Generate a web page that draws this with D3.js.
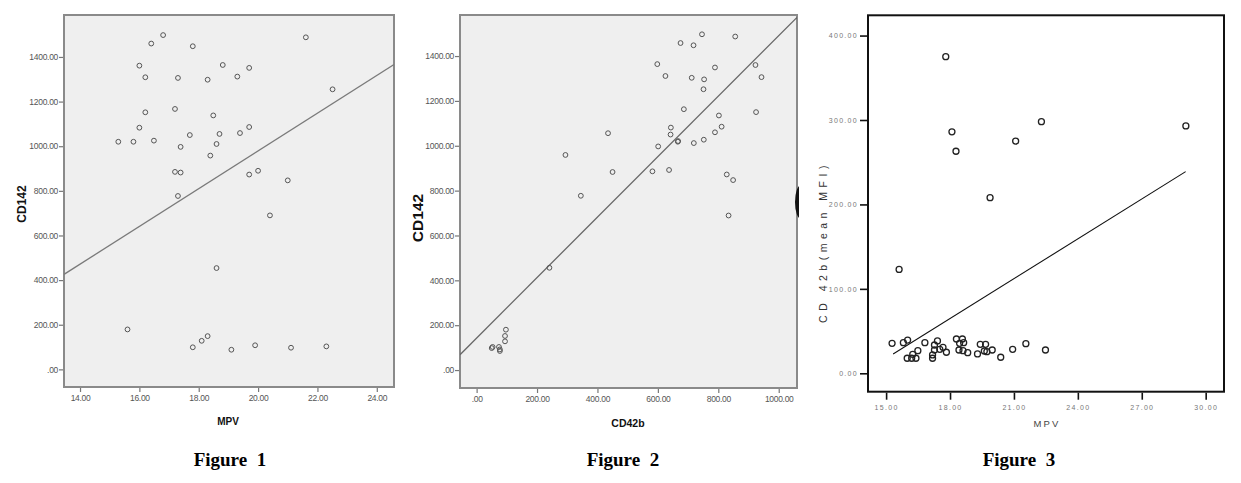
<!DOCTYPE html>
<html lang="en">
<head>
<meta charset="UTF-8">
<title>Figures 1-3</title>
<script src="https://cdnjs.cloudflare.com/ajax/libs/d3/7.8.5/d3.min.js"></script>
<style>
body { margin: 0; background: #fff; }
svg { display: block; }
.frame { fill: #efefef; stroke: #8a8a8a; stroke-width: 2px; }
.frame.bw { fill: #fff; stroke: #111; stroke-width: 2px; }
.tick text { font-family: "Liberation Sans Narrow", "Liberation Sans", sans-serif; fill: #555; }
.caption { font-family: "Liberation Serif", "Times New Roman", serif; font-weight: bold; font-size: 19px; }
</style>
</head>
<body>
<script>
// Figure 1: MPV vs CD142
var fig1Mpv   = [16.80, 16.40, 17.80, 21.61, 16.00, 18.81, 19.70, 16.20, 17.30, 18.30, 19.30, 22.51,
                 17.20, 16.20, 18.49, 16.00, 19.70, 15.29, 15.80, 16.49, 17.70, 18.70, 19.39, 17.39,
                 18.60, 18.39, 17.20, 17.39, 19.70, 20.00, 21.00, 17.30, 20.40, 18.60, 15.60, 17.80,
                 18.10, 18.30, 19.10, 19.90, 21.11, 22.30];
var fig1Cd142 = [1498, 1460, 1448, 1488, 1361, 1364, 1351, 1309, 1306, 1298, 1312, 1255,
                 1167, 1152, 1138, 1083, 1086, 1020, 1020, 1025, 1050, 1055, 1059, 997,
                 1010, 958, 885, 882, 873, 890, 847, 777, 690, 454, 179, 99,
                 128, 149, 88, 108, 97, 103];
var fig1Fit = { intercept: -713, slope: 84.6 };
var fig1XTicks = [14, 16, 18, 20, 22, 24];
var fig1YTicks = [0, 200, 400, 600, 800, 1000, 1200, 1400];

// Figure 2: CD42b vs CD142
var fig2Cd42b = [746, 675, 718, 856, 598, 789, 625, 712, 753, 923, 943, 751,
                 686, 802, 925, 643, 642, 811, 789, 435, 601, 667, 666, 719,
                 752, 294, 450, 582, 637, 828, 849, 345, 834, 241, 97, 94,
                 94, 50, 53, 74, 77, 77];
var fig2Cd142 = [1497, 1458, 1448, 1487, 1364, 1349, 1311, 1303, 1296, 1360, 1306, 1252,
                 1163, 1135, 1150, 1081, 1050, 1085, 1060, 1056, 997, 1021, 1018, 1012,
                 1027, 959, 883, 886, 892, 872, 847, 777, 689, 456, 180, 152,
                 128, 98, 103, 103, 92, 85];
var fig2Fit = { intercept: 142.7, slope: 1.348 };
var fig2XTicks = [0, 200, 400, 600, 800, 1000];
var fig2YTicks = [0, 200, 400, 600, 800, 1000, 1200, 1400];

// Figure 3: MPV vs CD42b (mean MFI)
var fig3Mpv   = [17.80, 18.09, 18.28, 22.29, 21.08, 29.07, 19.88, 15.61,
                 15.28, 15.81, 16.01, 16.82, 15.99, 16.20, 16.40, 16.25, 16.49, 17.18,
                 17.18, 17.27, 17.41, 17.27, 17.52, 17.67, 17.83, 18.30, 18.58, 18.45,
                 18.64, 18.42, 18.61, 18.83, 19.29, 19.42, 19.67, 19.61, 19.73, 19.98,
                 20.38, 20.94, 21.56, 22.48];
var fig3Cd42b = [375, 286, 263, 298, 275, 293, 208, 123,
                 35.5, 36.3, 39.4, 36.3, 17.8, 17.8, 17.8, 22.5, 26.8, 21.7,
                 17.8, 33.5, 38.3, 27.6, 28.4, 30.8, 24.9, 40.6, 40.6, 35.5,
                 36.3, 27.6, 26.8, 24.4, 22.9, 34.3, 34.3, 26.4, 25.6, 27.6,
                 19.0, 28.4, 35.1, 27.6];
var fig3Fit = { intercept: -218.3, slope: 15.73, from: 15.33, to: 29.06 };
var fig3XTicks = [15, 18, 21, 24, 27, 30];
var fig3YTicks = [0, 100, 200, 300, 400];

var svg = d3.select("body").append("svg")
  .attr("width", 1241)
  .attr("height", 483);

var fmtSpss = function (v) { return v === 0 ? ".00" : d3.format(".2f")(v); };

function panel(cfg) {
  var x = d3.scaleLinear().domain(cfg.xDomain).range([cfg.left, cfg.right]);
  var y = d3.scaleLinear().domain(cfg.yDomain).range([cfg.bottom, cfg.top]);
  var g = svg.append("g");

  g.append("rect")
    .attr("class", cfg.bw ? "frame bw" : "frame")
    .attr("x", cfg.left).attr("y", cfg.top)
    .attr("width", cfg.right - cfg.left)
    .attr("height", cfg.bottom - cfg.top);

  // axes
  var yAxis = g.append("g")
    .attr("transform", "translate(" + (cfg.left - 1) + ",0)")
    .call(d3.axisLeft(y).tickValues(cfg.yTicks).tickFormat(cfg.fmt)
      .tickSize(cfg.tick).tickPadding(cfg.yPad));
  var xAxis = g.append("g")
    .attr("transform", "translate(0," + (cfg.bottom + 1) + ")")
    .call(d3.axisBottom(x).tickValues(cfg.xTicks).tickFormat(cfg.fmt)
      .tickSize(cfg.tick).tickPadding(cfg.xPad));
  [xAxis, yAxis].forEach(function (a) {
    a.select(".domain").remove();
    a.selectAll(".tick line").attr("stroke", cfg.bw ? "#111" : "#777")
      .attr("stroke-width", cfg.bw ? 1.6 : 1.2);
    a.selectAll(".tick text")
      .style("font-size", cfg.tickFont + "px")
      .style("letter-spacing", cfg.tickSpacing + "px")
      .style("fill", cfg.bw ? "#777" : "#555");
  });

  // fit line
  var x0 = cfg.fit.from !== undefined ? cfg.fit.from : cfg.xDomain[0];
  var x1 = cfg.fit.to !== undefined ? cfg.fit.to : cfg.xDomain[1];
  var fitData = [x0, x1].map(function (v) { return [v, cfg.fit.intercept + cfg.fit.slope * v]; });
  g.append("clipPath").attr("id", "clip" + cfg.id)
    .append("rect")
    .attr("x", cfg.left).attr("y", cfg.top)
    .attr("width", cfg.right - cfg.left).attr("height", cfg.bottom - cfg.top);
  g.append("path")
    .datum(fitData)
    .attr("clip-path", "url(#clip" + cfg.id + ")")
    .attr("fill", "none")
    .attr("stroke", cfg.lineColor)
    .attr("stroke-width", cfg.lineWidth)
    .attr("d", d3.line().x(function (d) { return x(d[0]); }).y(function (d) { return y(d[1]); }));

  // points
  g.selectAll("circle.pt")
    .data(cfg.xs.map(function (v, i) { return [v, cfg.ys[i]]; }))
    .enter().append("circle")
    .attr("class", "pt")
    .attr("cx", function (d) { return x(d[0]); })
    .attr("cy", function (d) { return y(d[1]); })
    .attr("r", cfg.r)
    .attr("fill", "none")
    .attr("stroke", cfg.ptColor)
    .attr("stroke-width", cfg.ptWidth);

  // axis titles
  g.append("text")
    .attr("transform", "translate(" + cfg.yLabelX + "," + cfg.yLabelY + ") rotate(-90)")
    .attr("text-anchor", "middle")
    .style("font-family", cfg.bw ? "Liberation Sans, sans-serif" : "Liberation Sans Narrow, Liberation Sans, sans-serif")
    .style("font-weight", cfg.bw ? "normal" : "bold")
    .style("font-size", cfg.yLabelSize + "px")
    .style("letter-spacing", cfg.yLabelSpacing + "px")
    .style("fill", cfg.bw ? "#333" : "#111")
    .text(cfg.yLabel);
  g.append("text")
    .attr("x", (cfg.left + cfg.right) / 2 + cfg.xLabelShift)
    .attr("y", cfg.xLabelY)
    .attr("text-anchor", "middle")
    .style("font-family", cfg.bw ? "Liberation Sans, sans-serif" : "Liberation Sans Narrow, Liberation Sans, sans-serif")
    .style("font-weight", cfg.bw ? "normal" : "bold")
    .style("font-size", cfg.xLabelSize + "px")
    .style("letter-spacing", cfg.labelSpacing + "px")
    .style("fill", cfg.bw ? "#444" : "#111")
    .text(cfg.xLabel);

  // caption
  svg.append("text")
    .attr("class", "caption")
    .attr("x", cfg.capX).attr("y", 466)
    .attr("text-anchor", "middle")
    .style("word-spacing", "5px")
    .text(cfg.caption);
  return { x: x, y: y };
}

panel({
  id: 1, xs: fig1Mpv, ys: fig1Cd142, fit: fig1Fit,
  xDomain: [13.46, 24.58], yDomain: [-79, 1588],
  left: 64, right: 394, top: 15, bottom: 387,
  xTicks: fig1XTicks, yTicks: fig1YTicks, fmt: fmtSpss,
  tick: 4, yPad: 1, xPad: 3, tickFont: 8.5, tickSpacing: -0.3,
  lineColor: "#7a7a7a", lineWidth: 1.3, ptColor: "#555", ptWidth: 1, r: 2.4,
  yLabel: "CD142", yLabelX: 26, yLabelY: 204, yLabelSize: 12, yLabelSpacing: 0,
  xLabel: "MPV", xLabelY: 425, xLabelSize: 10, xLabelShift: -1, labelSpacing: 0,
  caption: "Figure 1", capX: 230
});

panel({
  id: 2, xs: fig2Cd42b, ys: fig2Cd142, fit: fig2Fit,
  xDomain: [-55, 1060.5], yDomain: [-80, 1583],
  left: 460, right: 797, top: 15, bottom: 388,
  xTicks: fig2XTicks, yTicks: fig2YTicks, fmt: fmtSpss,
  tick: 4, yPad: 1, xPad: 3, tickFont: 8.5, tickSpacing: -0.3,
  lineColor: "#666", lineWidth: 1.3, ptColor: "#555", ptWidth: 1, r: 2.4,
  yLabel: "CD142", yLabelX: 423, yLabelY: 218, yLabelSize: 15.5, yLabelSpacing: 0,
  xLabel: "CD42b", xLabelY: 427, xLabelSize: 10.5, xLabelShift: -0.5, labelSpacing: 0,
  caption: "Figure 2", capX: 623
});

panel({
  id: 3, xs: fig3Mpv, ys: fig3Cd42b, fit: fig3Fit, bw: true,
  xDomain: [14.15, 30.86], yDomain: [-21.8, 424],
  left: 868, right: 1224, top: 15.3, bottom: 391.7,
  xTicks: fig3XTicks, yTicks: fig3YTicks, fmt: d3.format(".2f"),
  tick: 7, yPad: 2, xPad: 5, tickFont: 7, tickSpacing: 1.3,
  lineColor: "#111", lineWidth: 1.1, ptColor: "#222", ptWidth: 1.3, r: 3,
  yLabel: "CD 42b(mean MFI)", yLabelX: 827, yLabelY: 242, yLabelSize: 10.5, yLabelSpacing: 4.5,
  xLabel: "MPV", xLabelY: 427, xLabelSize: 9.5, xLabelShift: 1, labelSpacing: 2.2,
  caption: "Figure 3", capX: 1019
});

// dark smudge at the right edge of figure 2, mostly cut off
svg.append("clipPath").attr("id", "smudgeClip")
  .append("rect").attr("x", 790).attr("y", 170).attr("width", 9).attr("height", 60);
svg.append("ellipse")
  .attr("clip-path", "url(#smudgeClip)")
  .attr("cx", 801).attr("cy", 202)
  .attr("rx", 6).attr("ry", 17)
  .attr("fill", "#111");
</script>
</body>
</html>
